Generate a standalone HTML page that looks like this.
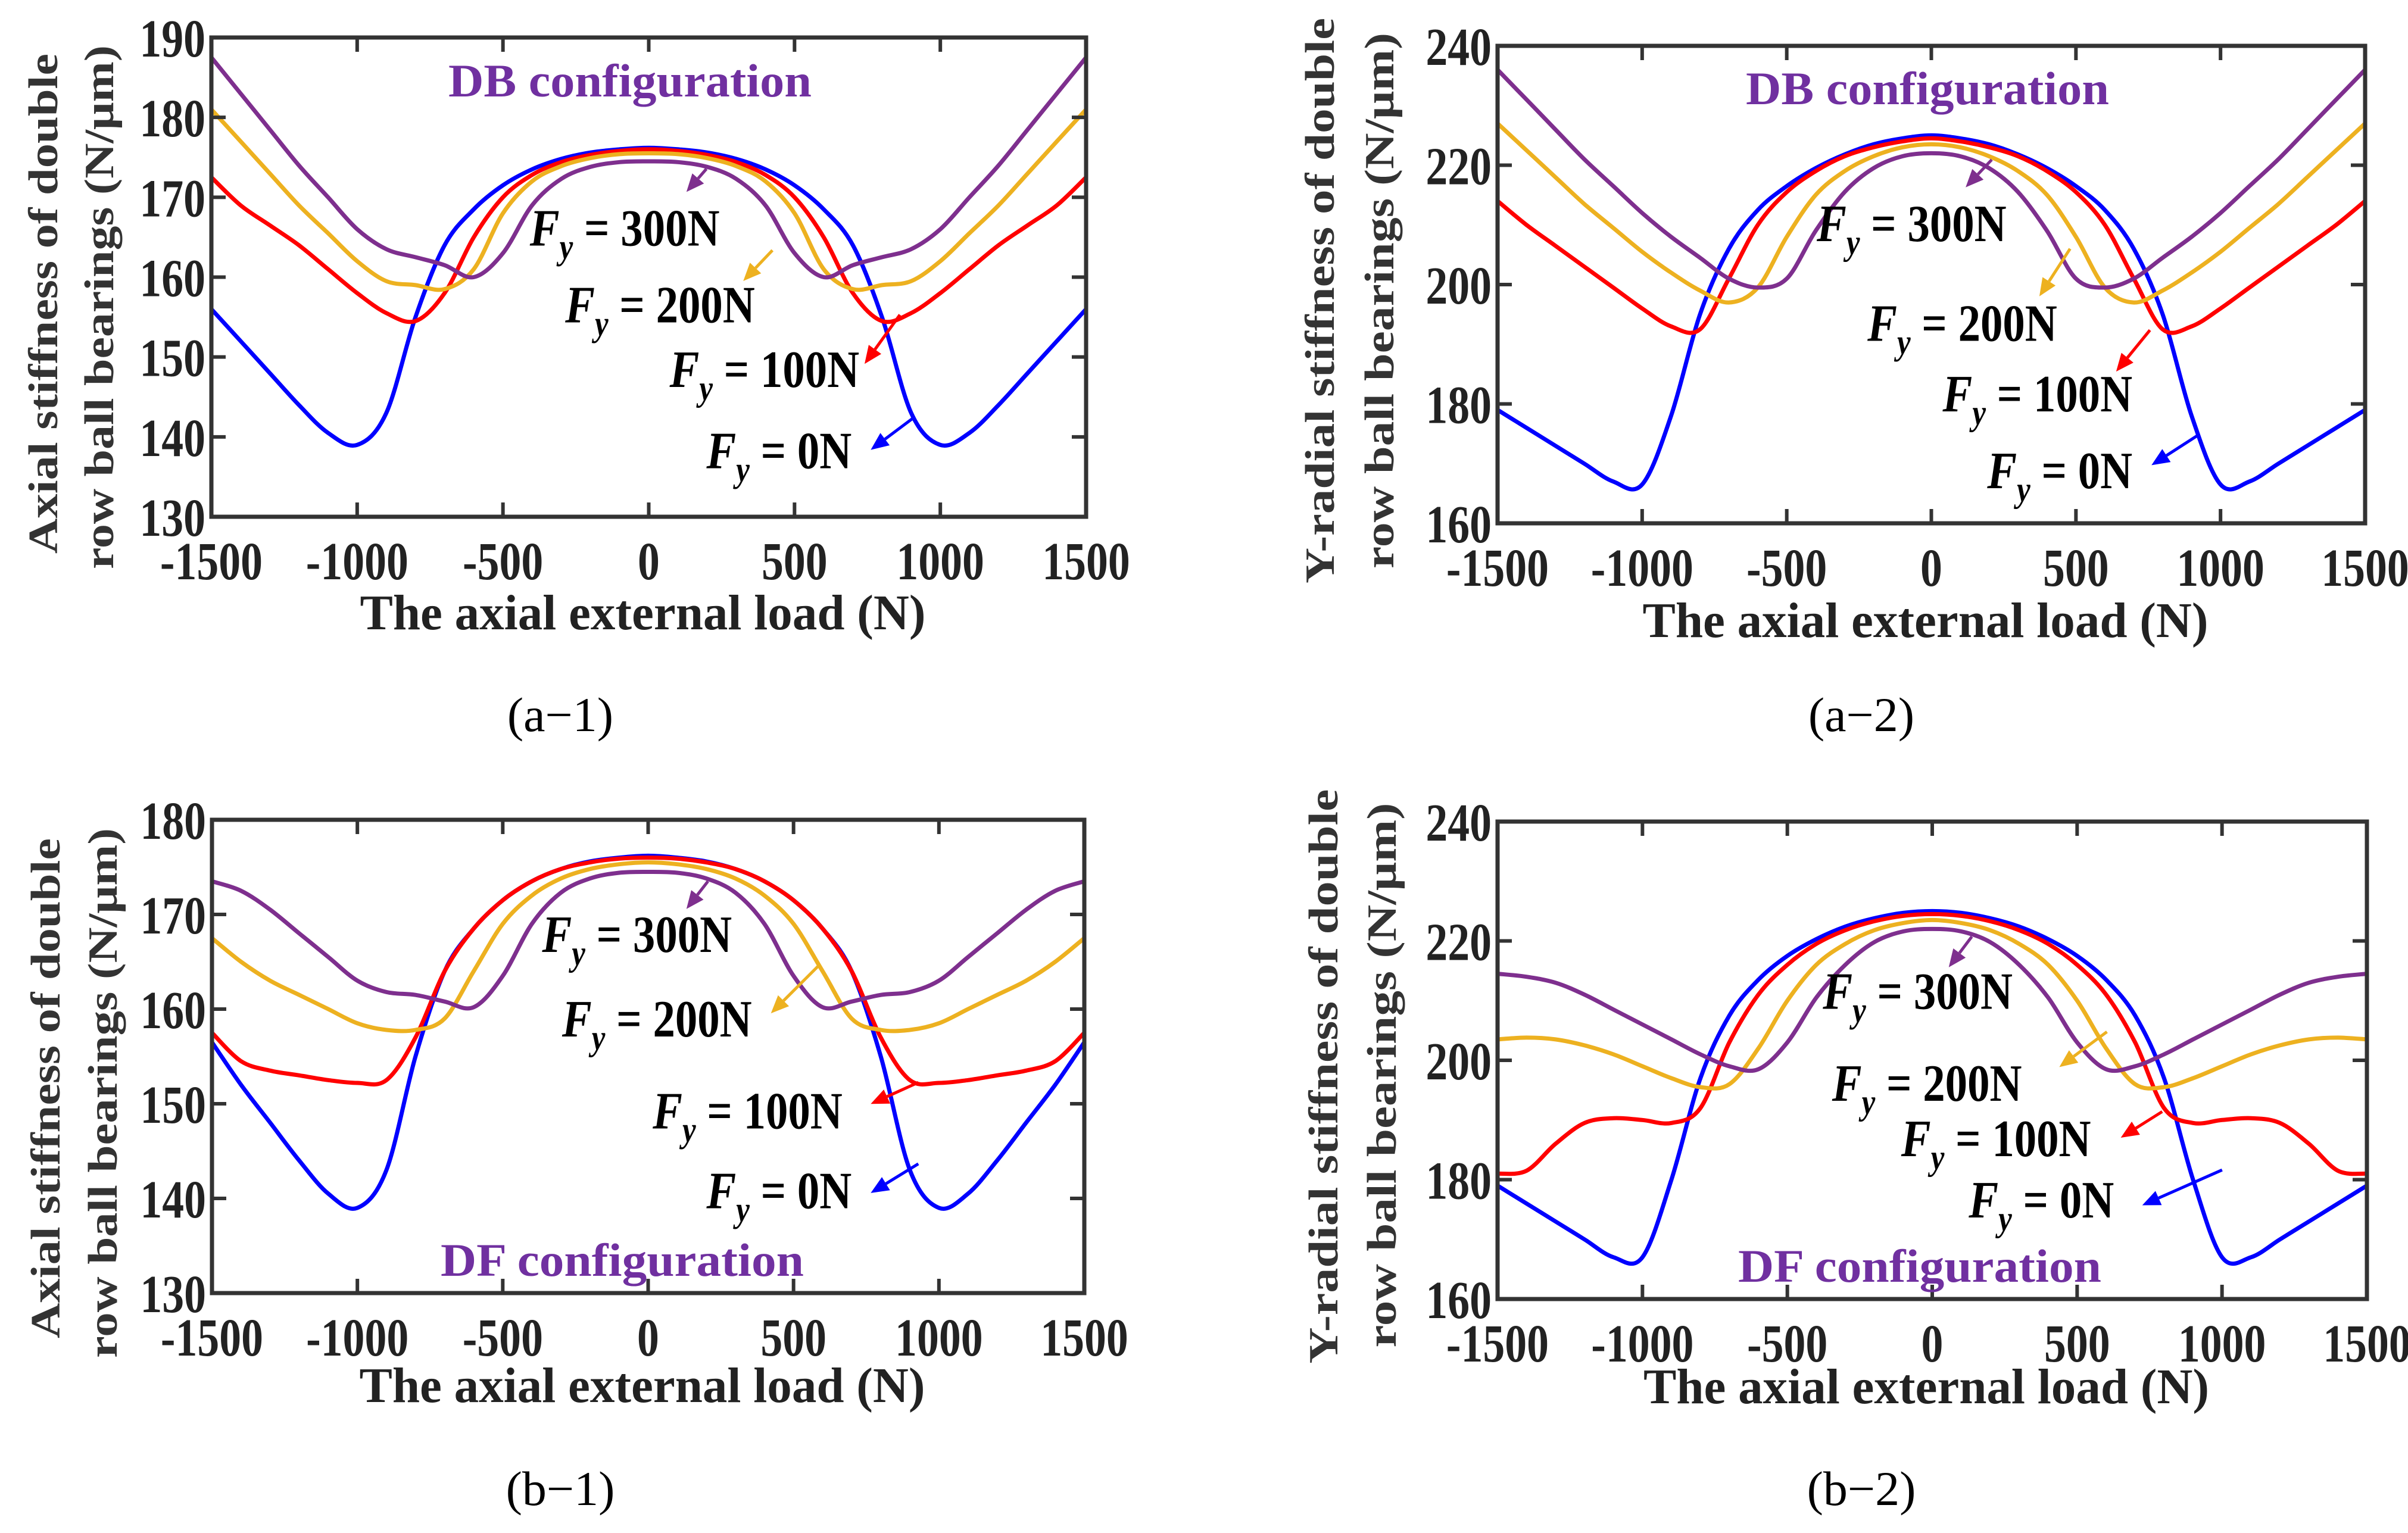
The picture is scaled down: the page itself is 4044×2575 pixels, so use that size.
<!DOCTYPE html>
<html><head><meta charset="utf-8"><style>
html,body{margin:0;padding:0;background:#fff;}
svg{display:block;}
text{font-family:"Liberation Serif",serif;}
</style></head><body>
<svg id="fig" width="4044" height="2575" viewBox="0 0 4044 2575" xmlns="http://www.w3.org/2000/svg"></svg>
<script>
const xVals=[-1500,-1400,-1300,-1200,-1100,-1000,-900,-800,-700,-600,-500,-400,-300,-200,-100,0,100,200,300,400,500,600,700,800,900,1000,1100,1200,1300,1400,1500];
const xTicks=[-1500,-1000,-500,0,500,1000,1500];
const xTickLabels=["-1500","-1000","-500","0","500","1000","1500"];
const yTicksA1=[130,140,150,160,170,180,190];
const yTicksA2=[160,180,200,220,240];
const yTicksB1=[130,140,150,160,170,180];
const yTicksB2=[160,180,200,220,240];
// a-1 axial stiffness DB
const a1_0N=[156,152,148,144,140.5,139,143,155,164,168.5,171.5,173.5,174.8,175.6,176,176.2,176,175.6,174.8,173.5,171.5,168.5,164,155,143,139,140.5,144,148,152,156];
const a1_100N=[172.5,169,166.5,164,161,158,155.5,154.5,158,165,170,172.8,174.4,175.3,175.8,176,175.8,175.3,174.4,172.8,170,165,158,154.5,155.5,158,161,164,166.5,169,172.5];
const a1_200N=[181,177,173,169,165.5,162,159.5,159,158.5,161,168,172,173.9,174.9,175.4,175.5,175.4,174.9,173.9,172,168,161,158.5,159,159.5,162,165.5,169,173,177,181];
const a1_300N=[187.5,183,178.5,174,170,166,163.5,162.5,161.5,160,163,169,172.3,173.8,174.4,174.5,174.4,173.8,172.3,169,163,160,161.5,162.5,163.5,166,170,174,178.5,183,187.5];
// a-2 radial stiffness DB
const a2_0N=[179,176,173,170,167,166.5,178,195,206,212.5,216.5,219.5,221.8,223.5,224.5,225,224.5,223.5,221.8,219.5,216.5,212.5,206,195,178,166.5,167,170,173,176,179];
const a2_100N=[214,210,206.5,203,199.5,196,193,192.5,201,210,215.5,219,221.5,223,224,224.5,224,223,221.5,219,215.5,210,201,192.5,193,196,199.5,203,206.5,210,214];
const a2_200N=[227,222.5,218,213.5,209.5,205.5,202,199,197,199.5,208,215,219,221.5,223,223.5,223,221.5,219,215,208,199.5,197,199,202,205.5,209.5,213.5,218,222.5,227];
const a2_300N=[236,231,226,221,216.5,212,208,204.5,201,199.5,201,209,215.5,219.5,221.5,222,221.5,219.5,215.5,209,201,199.5,201,204.5,208,212,216.5,221,226,231,236];
// b-1 axial stiffness DF
const b1_0N=[156.5,152,148,144,140.5,139,143,155,164,168.5,171.5,173.5,174.8,175.6,176,176.2,176,175.6,174.8,173.5,171.5,168.5,164,155,143,139,140.5,144,148,152,156.5];
const b1_100N=[157.5,154.5,153.5,153,152.5,152.2,152.5,157,164,168.5,171.5,173.5,174.8,175.5,175.9,176,175.9,175.5,174.8,173.5,171.5,168.5,164,157,152.5,152.2,152.5,153,153.5,154.5,157.5];
const b1_200N=[167.5,165,163,161.5,160,158.5,157.8,157.8,159,164,169,172,173.8,174.8,175.3,175.5,175.3,174.8,173.8,172,169,164,159,157.8,157.8,158.5,160,161.5,163,165,167.5];
const b1_300N=[173.5,172.5,170.5,168,165.5,163,161.8,161.5,160.8,160.2,163.5,169,172.3,173.8,174.4,174.5,174.4,173.8,172.3,169,163.5,160.2,160.8,161.5,161.8,163,165.5,168,170.5,172.5,173.5];
// b-2 radial stiffness DF
const b2_0N=[179,176,173,170,167,167,180,197,207.5,213.5,217.5,220.3,222.4,223.8,224.7,225,224.7,223.8,222.4,220.3,217.5,213.5,207.5,197,180,167,167,170,173,176,179];
const b2_100N=[181,181.5,186,189.5,190.3,190,189.5,192,203,211,216,219.5,221.8,223.3,224.2,224.5,224.2,223.3,221.8,219.5,216,211,203,192,189.5,190,190.3,189.5,186,181.5,181];
const b2_200N=[203.5,203.8,203.5,202.5,201,199,197,195.5,196,202,210,216,219.5,221.8,223,223.5,223,221.8,219.5,216,210,202,196,195.5,197,199,201,202.5,203.5,203.8,203.5];
const b2_300N=[214.5,214,213,211,208.5,206,203.5,201,199,198.5,203,210.5,216,219.8,221.6,222,221.6,219.8,216,210.5,203,198.5,199,201,203.5,206,208.5,211,213,214,214.5];

const NS="http://www.w3.org/2000/svg";
const svg=document.getElementById('fig');
const COLORS={c0:"#0000ff",c1:"#ff0000",c2:"#edb120",c3:"#7e2f8e"};
function mk(tag,attrs,parent){const e=document.createElementNS(NS,tag);for(const k in attrs)e.setAttribute(k,attrs[k]);(parent||svg).appendChild(e);return e;}
function smoothPath(pts){let d="M"+pts[0][0].toFixed(1)+","+pts[0][1].toFixed(1);
 for(let i=0;i<pts.length-1;i++){const p0=pts[Math.max(i-1,0)],p1=pts[i],p2=pts[i+1],p3=pts[Math.min(i+2,pts.length-1)];
 const c1x=p1[0]+(p2[0]-p0[0])/6,c1y=p1[1]+(p2[1]-p0[1])/6,c2x=p2[0]-(p3[0]-p1[0])/6,c2y=p2[1]-(p3[1]-p1[1])/6;
 d+=" C"+c1x.toFixed(1)+","+c1y.toFixed(1)+" "+c2x.toFixed(1)+","+c2y.toFixed(1)+" "+p2[0].toFixed(1)+","+p2[1].toFixed(1);}
 return d;}

function panel(cfg){
 const g=mk('g',{});
 
 
 const {L,R,T,B,ymin,ymax}=cfg;
 const sx=v=>L+(v+1500)/3000*(R-L);
 const sy=v=>B-(v-ymin)/(ymax-ymin)*(B-T);
 // series
 const series=[[cfg.s[0],COLORS.c0,'fy-0n'],[cfg.s[1],COLORS.c1,'fy-100n'],[cfg.s[2],COLORS.c2,'fy-200n'],[cfg.s[3],COLORS.c3,'fy-300n']];
 series.forEach(([arr,col,nm])=>{
  const pts=xVals.map((x,i)=>[sx(x),sy(arr[i])]);
  const p=mk('path',{d:smoothPath(pts),fill:'none',stroke:col,'stroke-width':7,'stroke-linejoin':'round'},g);
  
  
 });
 // box
 const box=mk('rect',{x:L,y:T,width:R-L,height:B-T,fill:'none',stroke:'#333','stroke-width':7},g);
 
 
 // x ticks
 xTicks.forEach((v,i)=>{const x=sx(v);
  mk('line',{x1:x,y1:B,x2:x,y2:B-24,stroke:'#333','stroke-width':6},g);
  mk('line',{x1:x,y1:T,x2:x,y2:T+24,stroke:'#333','stroke-width':6},g);
  const t=mk('text',{x:0,y:0,transform:`translate(${x},${B+105}) scale(0.82,1)`,'text-anchor':'middle','font-size':90,'font-weight':'bold',fill:'#222'},g);
  t.textContent=xTickLabels[i];
  
  
 });
 cfg.yt.forEach(v=>{const y=sy(v);
  mk('line',{x1:L,y1:y,x2:L+24,y2:y,stroke:'#333','stroke-width':6},g);
  mk('line',{x1:R,y1:y,x2:R-24,y2:y,stroke:'#333','stroke-width':6},g);
  const t=mk('text',{x:0,y:0,transform:`translate(${L-10},${y+32}) scale(0.82,1)`,'text-anchor':'end','font-size':90,'font-weight':'bold',fill:'#222'},g);
  t.textContent=String(v);
  
  
 });
 // x title
 const xt=mk('text',{x:(R+L)/2-10,y:cfg.xtY,'text-anchor':'middle','font-size':84,'font-weight':'bold',fill:'#222',textLength:950,lengthAdjust:'spacingAndGlyphs'},g);
 xt.textContent="The axial external load (N)";
 
 
 // y title
 cfg.yl.forEach((ln,i)=>{const t=mk('text',{x:0,y:0,transform:`translate(${ln.x},${ln.c}) rotate(-90)`,'text-anchor':'middle','font-size':70,'font-weight':'bold',fill:'#333',textLength:ln.len,lengthAdjust:'spacingAndGlyphs'},g);
  t.textContent=ln.t;
  
  
 });
 // config label
 const cl=mk('text',{x:cfg.cfg[0],y:cfg.cfg[1],'text-anchor':'middle','font-size':78,'font-weight':'bold',fill:'#7030a0',textLength:610,lengthAdjust:'spacingAndGlyphs'},g);
 cl.textContent=cfg.cfg[2];
 
 
 // annotations
 const labs=['0N','100N','200N','300N'];const cols=[COLORS.c0,COLORS.c1,COLORS.c2,COLORS.c3];
 cfg.ann.forEach((a,i)=>{const k=2.579;
  const t=mk('text',{x:0,y:0,transform:`translate(${a[0]*k},${a[1]*k}) scale(0.85,1)`,'font-size':88,'font-weight':'bold',fill:'#000'},g);
  t.innerHTML='<tspan font-style="italic">F</tspan><tspan font-style="italic" font-size="60" dy="22">y</tspan><tspan dy="-22"> = '+labs[i]+'</tspan>';
  
  
  const x1=a[2]*k,y1=a[3]*k,x2=a[4]*k,y2=a[5]*k;
  const ang=Math.atan2(y2-y1,x2-x1),hl=30,hw=13;
  const bx=x2-hl*Math.cos(ang),by=y2-hl*Math.sin(ang);
  const ar=mk('g',{},g);
  
  
  mk('line',{x1:x1,y1:y1,x2:bx,y2:by,stroke:cols[i],'stroke-width':5},ar);
  mk('polygon',{points:`${x2},${y2} ${bx+hw*Math.sin(ang)},${by-hw*Math.cos(ang)} ${bx-hw*Math.sin(ang)},${by+hw*Math.cos(ang)}`,fill:cols[i]},ar);
 });
 // caption
 const cp=mk('text',{x:cfg.cap[0],y:cfg.cap[1],'text-anchor':'middle','font-size':82,fill:'#000'},g);
 cp.textContent=cfg.cap[2];
 
 
}
const Y1A="Axial stiffness of double",Y1B="Y-radial stiffness of double",Y2="row ball bearings (N/\u03bcm)";
panel({name:'panel-a1',L:355,R:1824,T:63,B:868,ymin:130,ymax:190,s:[a1_0N,a1_100N,a1_200N,a1_300N],yt:yTicksA1,xtY:1057,
 yl:[{t:Y1A,x:96,c:510,len:840},{t:Y2,x:190,c:516,len:880}],cfg:[1058,162,'DB configuration'],
 ann:[[460,305,595,272,567,293],[436,252,586,205,563,237],[368,210,503,163,484,183],[345,160,460,110,447,125]],cap:[941,1228,'(a\u22121)']});
panel({name:'panel-a2',L:2515,R:3972,T:77,B:879,ymin:160,ymax:240,s:[a2_0N,a2_100N,a2_200N,a2_300N],yt:yTicksA2,xtY:1070,
 yl:[{t:Y1B,x:2240,c:505,len:950},{t:Y2,x:2340,c:505,len:900}],cfg:[3237,175,'DB configuration'],
 ann:[[1294,318,1432,283,1401,303],[1265,268,1400,215,1378,242],[1216,222,1348,162,1328,193],[1183,157,1297,104,1280,122]],cap:[3126,1228,'(a\u22122)']});
panel({name:'panel-b1',L:356,R:1821,T:1377,B:2172,ymin:130,ymax:180,s:[b1_0N,b1_100N,b1_200N,b1_300N],yt:yTicksB1,xtY:2355,
 yl:[{t:Y1A,x:100,c:1828,len:840},{t:Y2,x:196,c:1836,len:890}],cfg:[1045,2143,'DF configuration'],
 ann:[[460,787,598,758,567,777],[425,735,598,705,567,719],[366,675,534,628,502,660],[353,620,461,574,447,592]],cap:[941,2528,'(b\u22121)']});
panel({name:'panel-b2',L:2515,R:3975,T:1380,B:2182,ymin:160,ymax:240,s:[b2_0N,b2_100N,b2_200N,b2_300N],yt:yTicksB2,xtY:2357,
 yl:[{t:Y1B,x:2246,c:1808,len:965},{t:Y2,x:2344,c:1806,len:915}],cfg:[3224,2153,'DF configuration'],
 ann:[[1282,793,1447,762,1395,785],[1238,753,1408,724,1381,741],[1193,717,1372,672,1341,695],[1187,657,1284,610,1269,630]],cap:[3126,2528,'(b\u22122)']});
</script>
</body></html>
